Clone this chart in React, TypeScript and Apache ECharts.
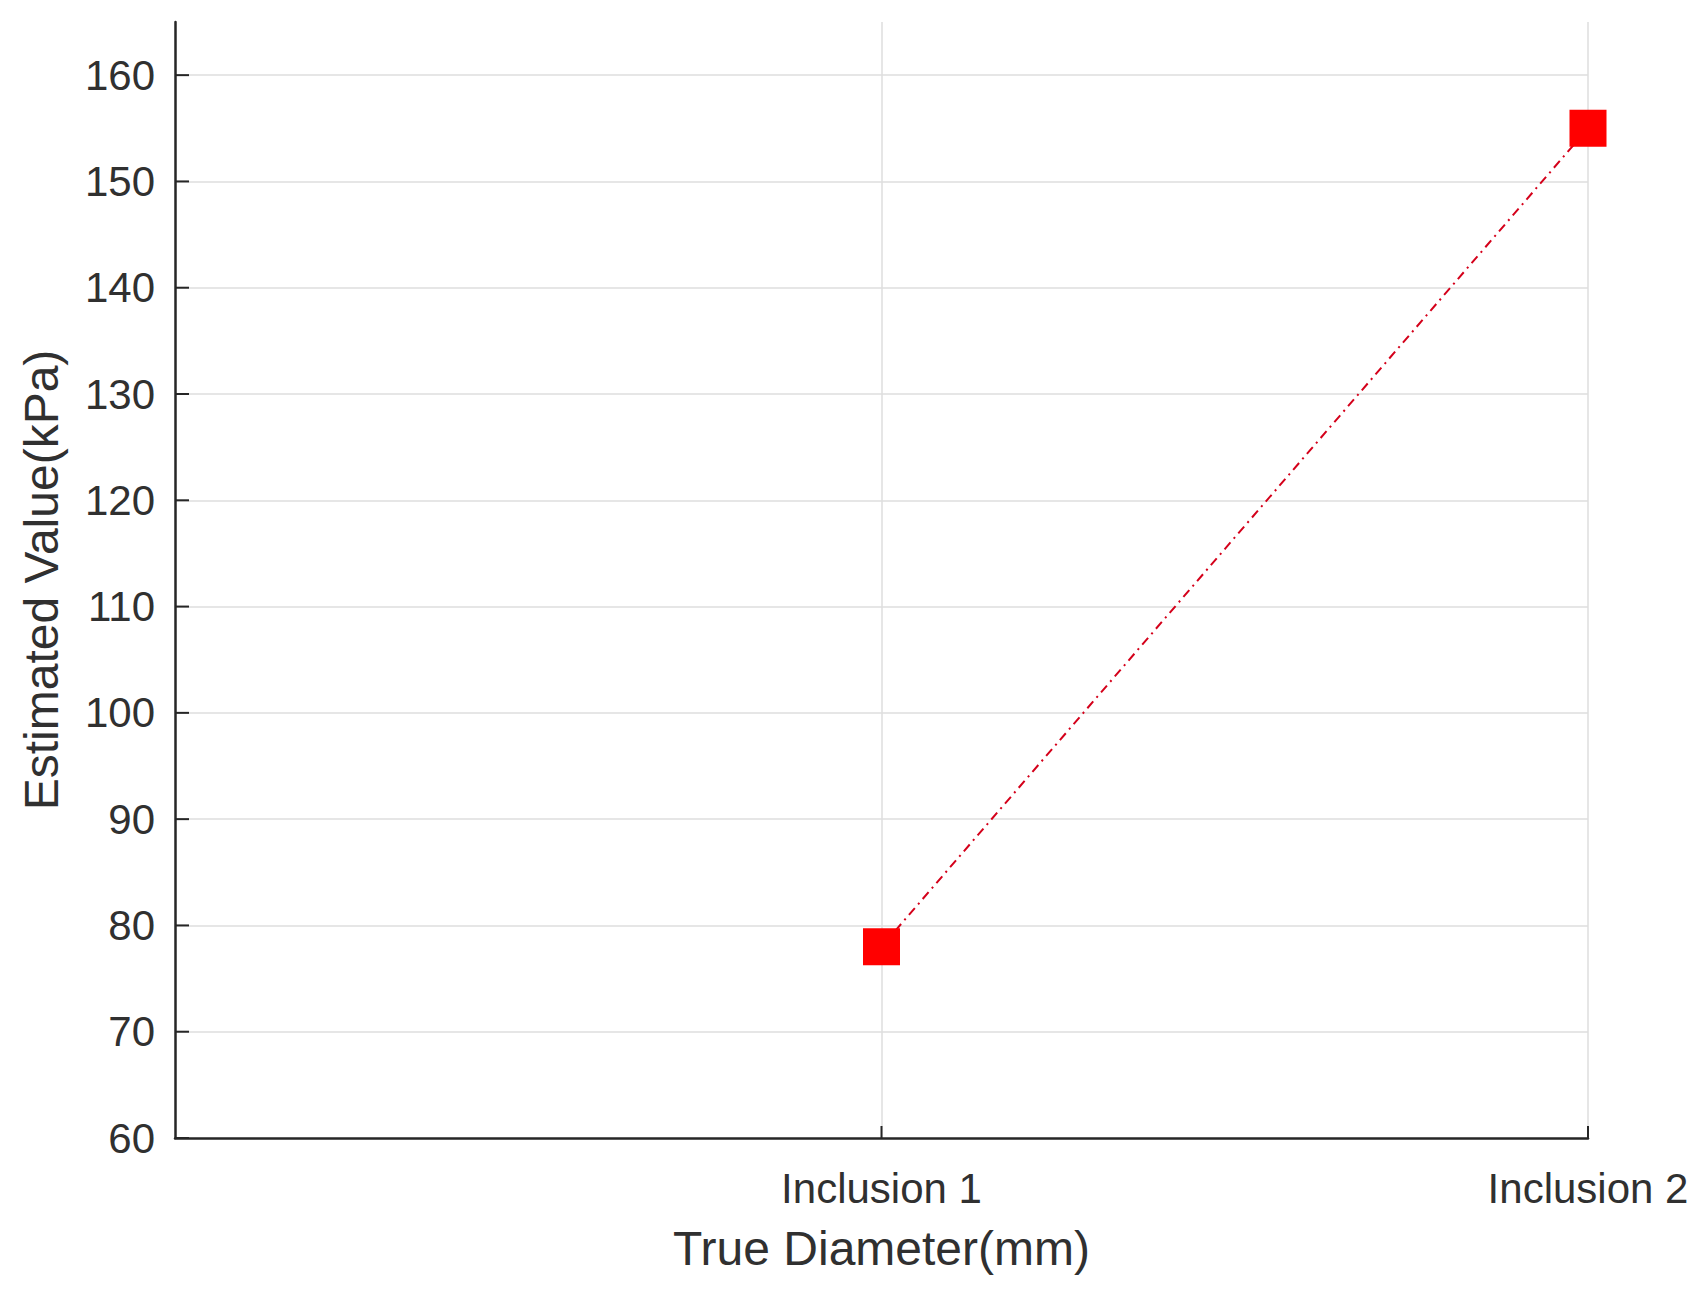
import React, { useEffect, useRef } from "react";
import * as echarts from "echarts";

const categories = ["Inclusion 1", "Inclusion 2"];
const estimatedValues = [78, 155];
const yTickValues = [60, 70, 80, 90, 100, 110, 120, 130, 140, 150, 160];
const yRange = { min: 60, max: 165, interval: 10 };
const xTitle = "True Diameter(mm)";
const yTitle = "Estimated Value(kPa)";

export default function App() {
  const ref = useRef<HTMLDivElement>(null);
  useEffect(() => {
    document.body.style.margin = "0";
    const chart = echarts.init(ref.current!, null, { renderer: "svg" });
    const font = "'Liberation Sans', Arial, Helvetica, sans-serif";
    const axisColor = "#262626";
    const textColor = "#303030";
    const gridColor = "#dedede";
    const points = categories.map((c, i) => [i + 1, estimatedValues[i]]);
    const yTickData = yTickValues.map((v) => [0, v]);
    const xTickData = categories.map((c, i) => [i + 1, yRange.min]);
    const tickSeries = (data: number[][], dx: number, dy: number) => ({
      type: "custom",
      data,
      clip: false,
      silent: true,
      z: 4,
      renderItem: (params: any, api: any) => {
        const p = api.coord([api.value(0), api.value(1)]);
        return {
          type: "line",
          shape: { x1: p[0], y1: p[1], x2: p[0] + dx, y2: p[1] + dy },
          style: { stroke: axisColor, lineWidth: 2 },
        };
      },
    });
    chart.setOption({
      animation: false,
      backgroundColor: "#ffffff",
      grid: { left: 175, right: 118, top: 22, bottom: 156, containLabel: false },
      xAxis: {
        type: "value",
        min: 0,
        max: categories.length,
        interval: 1,
        name: xTitle,
        nameLocation: "middle",
        nameGap: 86,
        nameTextStyle: { fontFamily: font, fontSize: 48, color: textColor },
        axisLine: { show: true, onZero: false, lineStyle: { color: axisColor, width: 2.5 } },
        axisTick: { show: false },
        axisLabel: {
          fontFamily: font,
          fontSize: 42,
          color: textColor,
          margin: 29,
          showMinLabel: true,
          showMaxLabel: true,
          formatter: (v: number) => (v >= 1 && v <= categories.length ? categories[Math.round(v) - 1] : ""),
        },
        splitLine: { show: true, showMinLine: false, lineStyle: { color: gridColor, width: 1.5 } },
      },
      yAxis: {
        type: "value",
        min: yRange.min,
        max: yRange.max,
        interval: yRange.interval,
        name: yTitle,
        nameLocation: "middle",
        nameGap: 110,
        nameTextStyle: { fontFamily: font, fontSize: 48, color: textColor },
        axisLine: { show: true, onZero: false, lineStyle: { color: axisColor, width: 2.5 } },
        axisTick: { show: false },
        axisLabel: {
          fontFamily: font,
          fontSize: 42,
          color: textColor,
          margin: 20,
          showMaxLabel: false,
          formatter: (v: number) => (v % yRange.interval === 0 ? String(v) : ""),
        },
        splitLine: { show: true, showMaxLine: false, showMinLine: false, lineStyle: { color: gridColor, width: 1.5 } },
      },
      series: [
        tickSeries(yTickData, 14, 0),
        tickSeries(xTickData, 0, -12),
        {
          type: "line",
          data: points,
          symbol: "rect",
          symbolSize: 37,
          itemStyle: { color: "#ff0000" },
          lineStyle: { color: "#d4001a", width: 2, type: [9, 5, 2, 5] },
          z: 3,
        },
      ],
    });
    return () => chart.dispose();
  }, []);
  return <div ref={ref} style={{ width: 1706, height: 1294 }} />;
}
